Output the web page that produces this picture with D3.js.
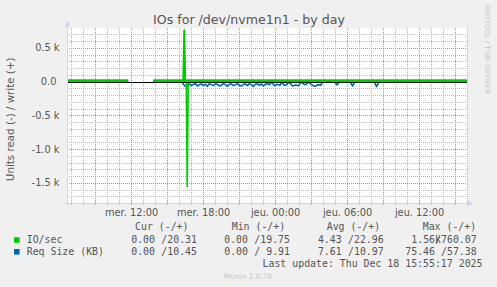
<!DOCTYPE html>
<html><head><meta charset="utf-8">
<script src="https://cdn.jsdelivr.net/npm/d3@7"></script>
<style>
html,body{margin:0;padding:0;background:#f0f0f0;}
svg{display:block;}
text{white-space:pre;}
</style></head>
<body>
<svg id="c" width="497" height="287"></svg>
<script>
// ---------- data (hours since Wed 2025-12-17 00:00) ----------
const startHour = 6.70, endHour = 40.033;
const yTicks = [-1500, -1000, -500, 0, 500];
const yTickLabels = ["-1.5 k", "-1.0 k", "-0.5 k", "0.0 ", "0.5 k"];
const xTickHours = [12, 18, 24, 30, 36];
const xTickLabels = ["mer. 12:00", "mer. 18:00", "jeu. 00:00", "jeu. 06:00", "jeu. 12:00"];

// IO/sec (green): write (+), read (-)
const ioWriteT = [6.70, 8.0, 9.5, 11.80, 11.85, 13.85, 13.90, 15.5, 16.39, 16.47, 16.55, 17.5, 20, 24, 28, 32, 36, 40.03];
const ioWriteV = [21, 20, 21, 20, null, null, 20, 21, 20, 760, 21, 20, 21, 20, 21, 20, 21, 20];
const ioReadT = [6.70, 11.80, 11.85, 13.85, 13.90, 16.55, 16.64, 16.72, 16.80, 20, 30, 40.03];
const ioReadV = [0.5, 0.5, null, null, 0.5, 1, 2, 1560, 3, 1, 0.5, 0];

// Req Size (KB) (blue): write (+), read (-)
const reqWriteT = [6.70, 11.80, 11.85, 13.85, 13.90, 16.39, 16.47, 16.55, 40.03];
const reqWriteV = [10, 10, null, null, 10, 10, 57, 11, 10.45];
const reqReadT0 = [6.70, 11.80, 11.85, 13.85, 13.90, 16.30];
const reqReadV0 = [0, 0, null, null, 0, 0];
const reqReadDenseStart = 16.40, reqReadDenseStep = 1 / 6;
const reqReadDense = [40, 70, 50, 35, 60, 40, 30, 65, 45, 35, 55, 40, 70, 30, 45, 60, 35, 40, 65, 50, 30, 45, 72, 40, 35, 60, 45, 30, 55, 65, 40, 35, 60, 30, 45, 70, 40, 30, 55, 35, 65, 40, 30, 45];
const reqReadT1 = [23.75, 24.0, 24.2, 24.45, 24.6, 24.8, 25.0, 25.2, 25.5, 25.75, 26.0, 26.2, 26.5, 26.65, 26.8, 27.2, 27.4, 27.6, 27.85, 28.0, 29.0, 29.2, 29.4, 30.3, 30.5, 30.7, 32.3, 32.5, 32.7, 40.03];
const reqReadV1 = [5, 60, 40, 55, 5, 55, 45, 5, 65, 50, 60, 5, 45, 40, 5, 60, 70, 45, 55, 5, 5, 50, 5, 5, 65, 5, 5, 75, 5, 0];

const legendNames = ["IO/sec", "Req Size (KB)"];
const legendColors = ["#00cc00", "#0066b3"];
const legendHeads = ["Cur (-/+)", "Min (-/+)", "Avg (-/+)", "Max (-/+)"];
const legendRead = [["0.00", "0.00", "4.43", "1.56k"], ["0.00", "0.00", "7.61", "75.46"]];
const legendWrite = [["/20.31", "/19.75", "/22.96", "/760.07"], ["/10.45", "/ 9.91", "/10.97", "/57.38"]];
const lastUpdate = "Last update: Thu Dec 18 15:55:17 2025";

// ---------- drawing ----------
const svg = d3.select("#c");
const L = 67, R = 467, T = 28, B = 203;
const base = new Date(2025, 11, 17, 0, 0, 0);
const hd = h => new Date(base.getTime() + h * 3600000);
const x = d3.scaleTime().domain([hd(startHour), hd(endHour)]).range([L, R]);
const y = d3.scaleLinear().domain([-1800, 795]).range([B, T]);

svg.append("rect").attr("width", 497).attr("height", 287).attr("fill", "#f0f0f0");
svg.append("rect").attr("x", L).attr("y", T).attr("width", R - L).attr("height", B - T).attr("fill", "#ffffff");

const minorC = "#b8b8b8", majorC = "#e07a7a";
// horizontal grid
for (let v = -1700; v <= 700; v += 100) {
  const major = v % 500 === 0;
  svg.append("line").attr("x1", L).attr("x2", R).attr("y1", Math.round(y(v)) + 0.5).attr("y2", Math.round(y(v)) + 0.5)
    .attr("stroke", major ? majorC : minorC).attr("stroke-dasharray", "1,1").attr("stroke-width", 1);
}
// vertical grid
const hours = d3.timeHour.every(1).range(hd(startHour), hd(endHour));
hours.forEach(d => {
  const major = d.getHours() % 3 === 0;
  const xx = Math.round(x(d)) + 0.5;
  svg.append("line").attr("x1", xx).attr("x2", xx).attr("y1", T).attr("y2", B + 2)
    .attr("stroke", major ? majorC : minorC).attr("stroke-dasharray", "1,1").attr("stroke-width", 1);
});

// series
function pts(ts, vs, sign) { return ts.map((t, i) => ({t: hd(t), v: vs[i] == null ? null : sign * vs[i]})); }
const line = d3.line().defined(d => d.v != null).x(d => x(d.t)).y(d => y(d.v));
const reqReadT = reqReadT0.concat(reqReadDense.map((_, i) => reqReadDenseStart + i * reqReadDenseStep), reqReadT1);
const reqReadV = reqReadV0.concat(reqReadDense, reqReadV1);

svg.append("line").attr("x1", L).attr("x2", R).attr("y1", Math.round(y(0)) + 0.5).attr("y2", Math.round(y(0)) + 0.5).attr("stroke", "#000").attr("stroke-width", 1);

const series = [
  {d: pts(reqWriteT, reqWriteV, 1), c: legendColors[1], w: 1.5},
  {d: pts(reqReadT, reqReadV, -1), c: legendColors[1], w: 1.6},
  {d: pts(ioReadT, ioReadV, -1), c: legendColors[0], w: 1.6},
  {d: pts(ioWriteT, ioWriteV, 1), c: legendColors[0], w: 2},
];
series.forEach(s => svg.append("path").attr("d", line(s.d)).attr("fill", "none").attr("stroke", s.c).attr("stroke-width", s.w).attr("stroke-linejoin", "round"));

svg.append("line").attr("x1", L).attr("x2", R).attr("y1", Math.round(y(0)) + 0.5).attr("y2", Math.round(y(0)) + 0.5).attr("stroke", "#000").attr("stroke-width", 0.9);

// axes
const axC = "#cfd6f8";
svg.append("line").attr("x1", L + 0.5).attr("x2", L + 0.5).attr("y1", B + 2).attr("y2", 25).attr("stroke", axC);
svg.append("line").attr("x1", L - 3).attr("x2", R + 2).attr("y1", B + 0.5).attr("y2", B + 0.5).attr("stroke", axC);
svg.append("path").attr("d", `M${L + 0.5},21 L${L - 2.5},26.5 L${L + 3.5},26.5 Z`).attr("fill", axC);
svg.append("path").attr("d", `M473.5,${B + 0.5} L468,${B - 2.5} L468,${B + 3.5} Z`).attr("fill", axC);

const fontS = "DejaVu Sans", fontM = "DejaVu Sans Mono", txt = "#555555";
yTicks.forEach((v, i) => svg.append("text").attr("x", 59.5).attr("y", y(v)).attr("dy", "0.36em").attr("text-anchor", "end")
  .attr("font-family", fontS).attr("font-size", 9.8).attr("fill", txt).text(yTickLabels[i]));
xTickHours.forEach((h, i) => svg.append("text").attr("x", x(hd(h)) + 1).attr("y", 216.3).attr("text-anchor", "middle")
  .attr("font-family", fontS).attr("font-size", 9.8).attr("fill", txt).text(xTickLabels[i]));

svg.append("text").attr("x", 249).attr("y", 24).attr("text-anchor", "middle").attr("font-family", fontS).attr("font-size", 12.6).attr("fill", txt).text("IOs for /dev/nvme1n1 - by day");
svg.append("text").attr("transform", "translate(14.2,119.3) rotate(-90)").attr("text-anchor", "middle").attr("font-family", fontS).attr("font-size", 10.3).attr("fill", txt).text("Units read (-) / write (+)");
svg.append("text").attr("transform", "translate(485,5) rotate(90)").attr("font-family", fontS).attr("font-size", 6.9).attr("fill", "#c4c4c4").text("RRDTOOL / TOBI OETIKER");

// legend
const colStart = [135, 231.7, 326.7, 422.7];
const readEnd = [155, 248, 341.7, 435];
const writeEnd = [197, 290, 383.7, 476.7];
legendHeads.forEach((h, i) => svg.append("text").attr("x", colStart[i]).attr("y", 229.8).attr("font-family", fontM).attr("font-size", 9.9).attr("fill", txt).text(h));
const rowY = [243.4, 255.2];
legendNames.forEach((n, r) => {
  svg.append("rect").attr("x", 14).attr("y", rowY[r] - 6.2).attr("width", 5.6).attr("height", 5.6).attr("fill", legendColors[r]);
  svg.append("text").attr("x", 26.7).attr("y", rowY[r]).attr("font-family", fontM).attr("font-size", 9.9).attr("fill", txt).text(n);
  legendRead[r].forEach((v, i) => {
    const hasSuffix = /[a-zA-Z]$/.test(v);
    svg.append("text").attr("x", hasSuffix ? readEnd[i] + 6 : readEnd[i]).attr("y", rowY[r]).attr("text-anchor", "end")
      .attr("font-family", fontM).attr("font-size", 9.9).attr("fill", txt).text(v);
  });
  legendWrite[r].forEach((v, i) => svg.append("text").attr("x", writeEnd[i]).attr("y", rowY[r]).attr("text-anchor", "end")
    .attr("font-family", fontM).attr("font-size", 9.9).attr("fill", txt).text(v));
});
svg.append("text").attr("x", 482.5).attr("y", 266.6).attr("text-anchor", "end").attr("font-family", fontM).attr("font-size", 9.9).attr("fill", txt).text(lastUpdate);
svg.append("text").attr("x", 248).attr("y", 279).attr("text-anchor", "middle").attr("font-family", fontS).attr("font-size", 7.4).attr("fill", "#c8c8c8").text("Munin 2.0.76");
</script>
</body></html>
